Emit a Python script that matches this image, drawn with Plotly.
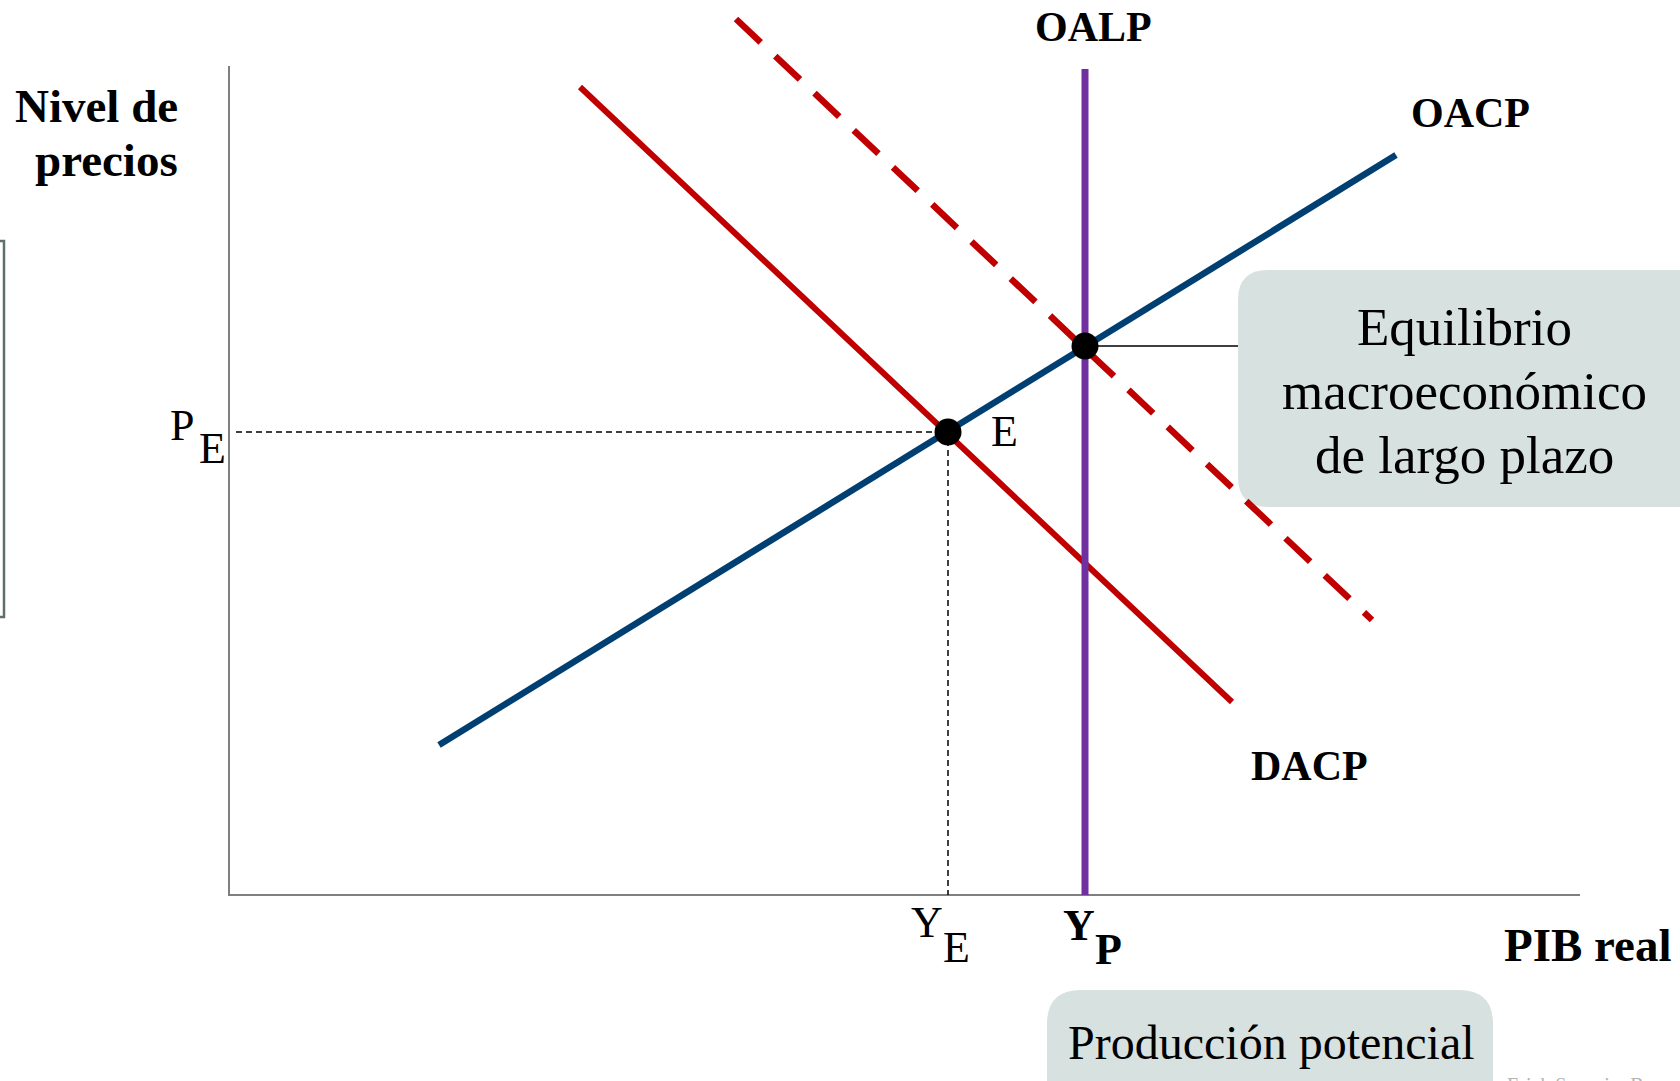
import plotly.graph_objects as go

# economic units: origin at the axes corner, 1 unit = 10 px on screen
oacp_x = [21.0, 116.7]
oacp_y = [15.0, 74.0]
dacp_x = [35.1, 100.3]
dacp_y = [80.8, 19.3]
dacp2_x = [50.7, 114.3]
dacp2_y = [87.6, 27.5]
yp = 85.6
oalp_y = [0.0, 82.6]
eq_x = [71.9, 85.6]
eq_y = [46.3, 54.9]
x_max = 135.1
y_max = 82.9

W, H = 1680, 1081
X0, Y0, S = 229, 895, 10.0  # pixel position of origin, px per unit


def dx(px):
    return (px - X0) / S


def dy(py):
    return (Y0 - py) / S


def pp(px, py):
    return f"{px / W:.5f},{1 - py / H:.5f}"


def rounded_box(x0, y0, x1, y1, r):
    return ("M " + pp(x0 + r, y0) + " L " + pp(x1 - r, y0) + " Q " + pp(x1, y0) + " " + pp(x1, y0 + r)
            + " L " + pp(x1, y1 - r) + " Q " + pp(x1, y1) + " " + pp(x1 - r, y1)
            + " L " + pp(x0 + r, y1) + " Q " + pp(x0, y1) + " " + pp(x0, y1 - r)
            + " L " + pp(x0, y0 + r) + " Q " + pp(x0, y0) + " " + pp(x0 + r, y0) + " Z")


SERIF = "Liberation Serif"
RED = "#c00000"
BLUE = "#003f72"
PURPLE = "#7030a0"
BOXFILL = "#d7e1df"

fig = go.Figure()

# axes
fig.add_trace(go.Scatter(x=[0, 0, x_max], y=[y_max, 0, 0], mode="lines",
                         line=dict(color="#7f7f7f", width=2)))
# guide lines
fig.add_trace(go.Scatter(x=[0.7, eq_x[0], eq_x[0]], y=[eq_y[0], eq_y[0], 0], mode="lines",
                         line=dict(color="black", width=1.5, dash="6px,4px")))
# connector to label box
fig.add_trace(go.Scatter(x=[eq_x[1], dx(1238)], y=[eq_y[1], eq_y[1]], mode="lines",
                         line=dict(color="black", width=1.5)))
fig.add_trace(go.Scatter(x=dacp2_x, y=dacp2_y, mode="lines",
                         line=dict(color=RED, width=6.5, dash="34px,20px")))
fig.add_trace(go.Scatter(x=dacp_x, y=dacp_y, mode="lines", line=dict(color=RED, width=6)))
fig.add_trace(go.Scatter(x=oacp_x, y=oacp_y, mode="lines", line=dict(color=BLUE, width=6.5)))
fig.add_trace(go.Scatter(x=[yp, yp], y=oalp_y, mode="lines", line=dict(color=PURPLE, width=7)))
fig.add_trace(go.Scatter(x=eq_x, y=eq_y, mode="markers",
                         marker=dict(color="black", size=27, line=dict(width=0))))

shapes = [
    dict(type="path", xref="paper", yref="paper", path=rounded_box(1238, 270, 1720, 507, 30),
         fillcolor=BOXFILL, line=dict(width=0), layer="below"),
    dict(type="path", xref="paper", yref="paper", path=rounded_box(1047, 990, 1493, 1130, 34),
         fillcolor=BOXFILL, line=dict(width=0), layer="below"),
    dict(type="rect", xref="paper", yref="paper", x0=-0.01, x1=4 / W, y0=1 - 617 / H, y1=1 - 241 / H,
         line=dict(color="#5f7068", width=2.5)),
]


def label(text, px, py, size, bold=False, anchor="center", color="black"):
    t = f"<b>{text}</b>" if bold else text
    return dict(x=dx(px), y=dy(py), xref="x", yref="y", text=t, showarrow=False,
                xanchor=anchor, yanchor="middle",
                font=dict(family=SERIF, size=size, color=color))


annotations = [
    label("Nivel de", 180, 106, 47, True, "right"),
    label("precios", 180, 160, 47, True, "right"),
    label("OALP", 1093, 27, 42, True),
    label("OACP", 1470, 113, 42, True),
    label("DACP", 1309, 766, 42, True),
    label("PIB real", 1588, 945, 47, True),
    label("E", 1004, 431, 44),
    label("P", 182, 425, 44),
    label("E", 212, 448, 44),
    label("Y", 927, 922, 44),
    label("E", 956, 947, 44),
    label("Y", 1079, 925, 44, True),
    label("P", 1108, 949, 44, True),
    label("Equilibrio", 1464, 327, 53),
    label("macroeconómico", 1464, 391, 53),
    label("de largo plazo", 1464, 455, 53),
    label("Producción potencial", 1271, 1042, 48),
    dict(x=dx(1505), y=dy(1072), xref="x", yref="y", text="Erick Sequeira Benavides",
         showarrow=False, xanchor="left", yanchor="top",
         font=dict(family=SERIF, size=20, color="#b4b4b4")),
]

fig.update_layout(
    width=W, height=H,
    margin=dict(l=0, r=0, t=0, b=0),
    paper_bgcolor="white", plot_bgcolor="white",
    showlegend=False,
    xaxis=dict(range=[dx(0), dx(W)], visible=False, fixedrange=True),
    yaxis=dict(range=[dy(H), dy(0)], visible=False, fixedrange=True),
    shapes=shapes,
    annotations=annotations,
)

fig.write_html("out.html", config={"displayModeBar": False},
               post_script="document.body.style.margin='0';document.body.style.overflow='hidden';")
